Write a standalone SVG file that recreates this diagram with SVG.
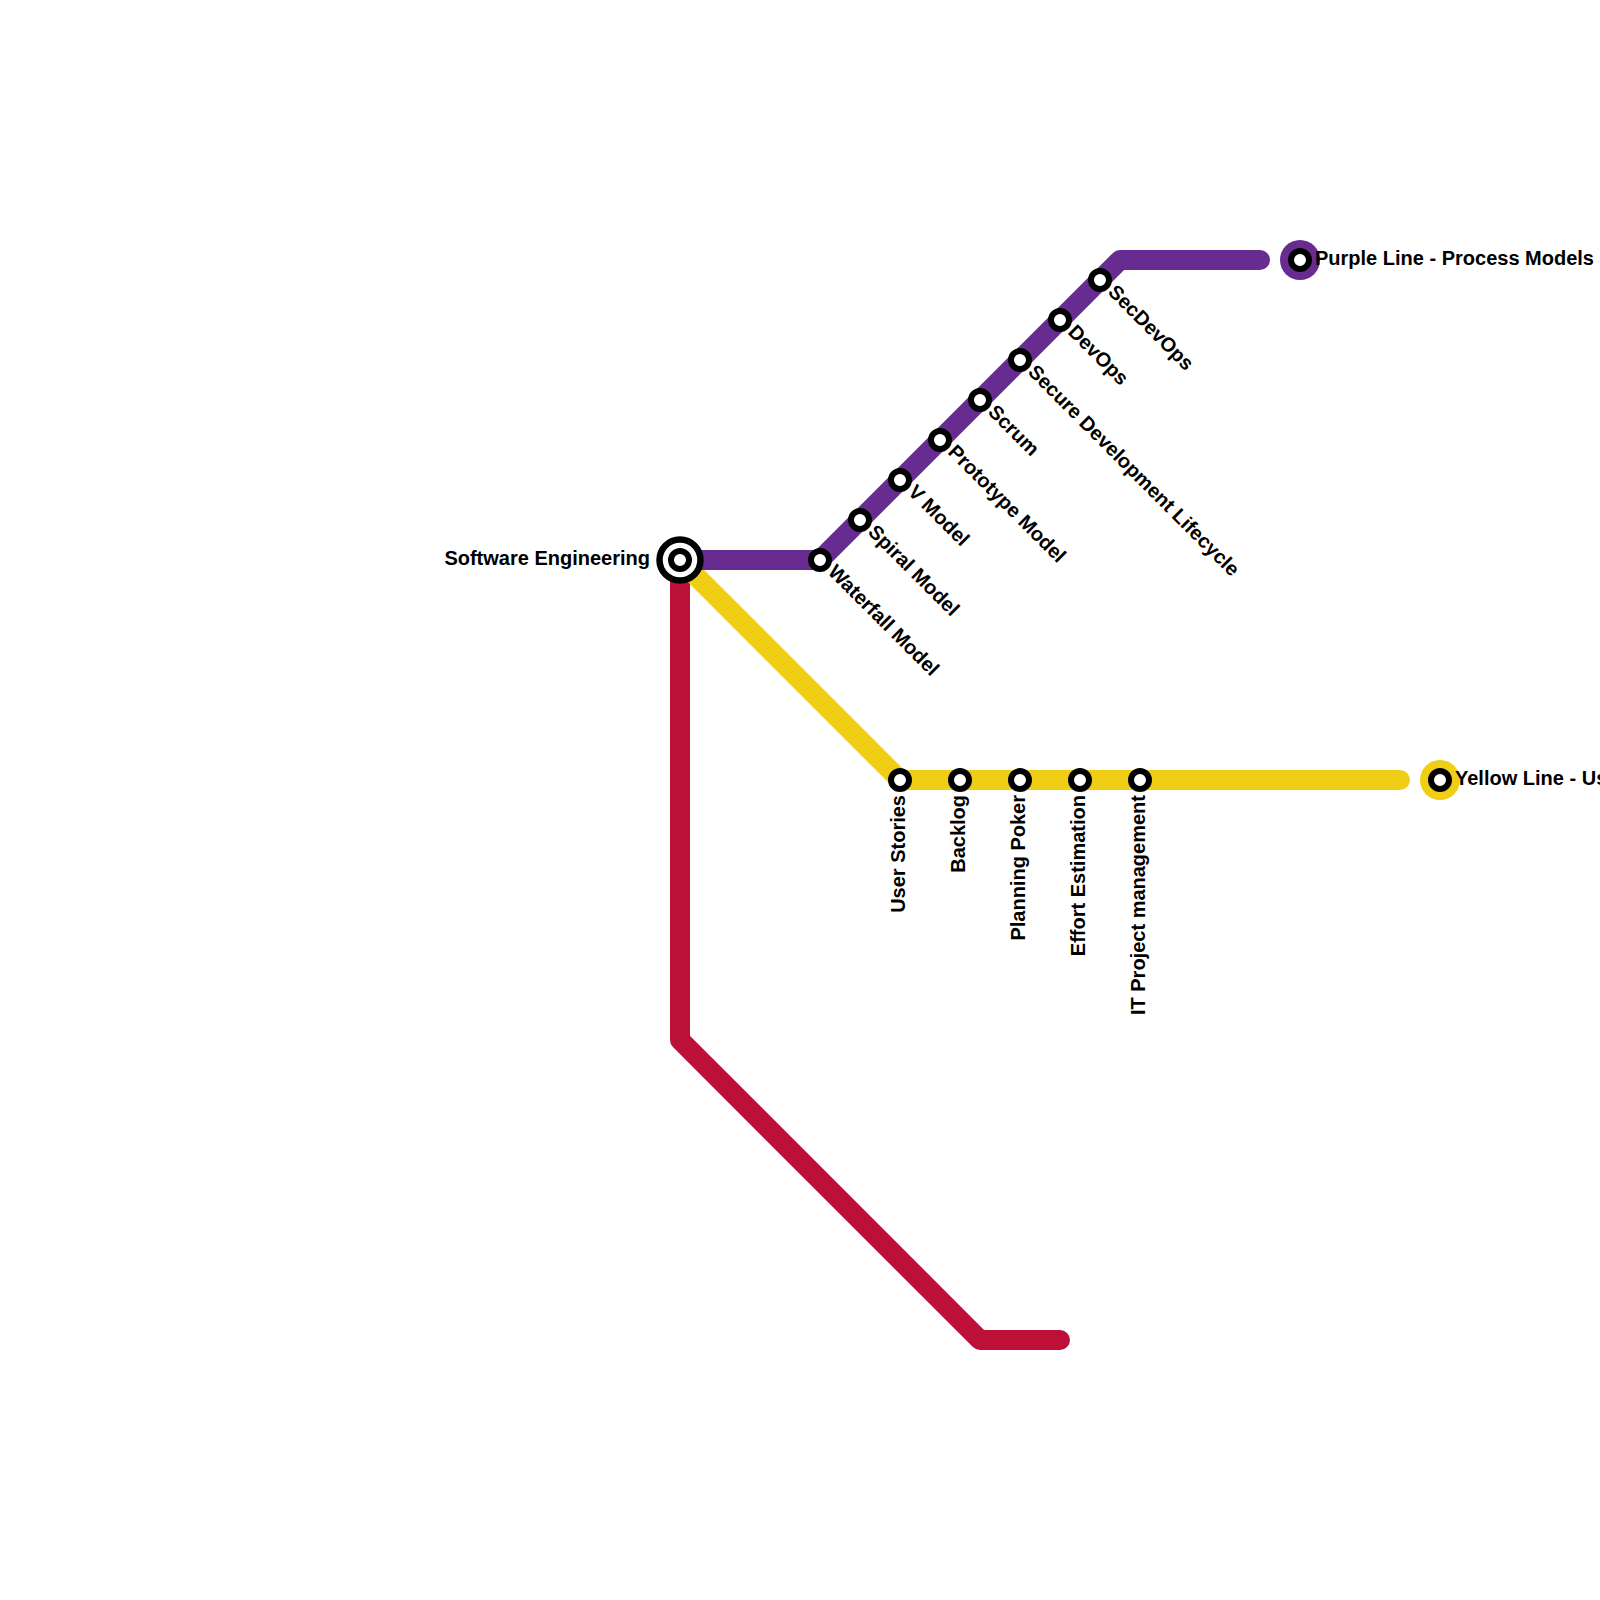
<svg xmlns="http://www.w3.org/2000/svg" width="1600" height="1600" viewBox="0 0 1600 1600">
<style>
.line{fill:none;stroke-width:20;stroke-linecap:round;stroke-linejoin:round}
.st{fill:#fff;stroke:#000;stroke-width:6}
.t{font-family:"Liberation Sans",Arial,sans-serif;font-weight:700;font-size:20px;fill:#000}
</style>
<rect width="1600" height="1600" fill="#fff"/>
<g id="connectors">
<path class="line" stroke="#bd1038" d="M680 560V1040L980 1340H1060"/>
<path class="line" stroke="#f0ce15" d="M680 560L900 780H1400"/>
<path class="line" stroke="#662c90" d="M680 560H820L1120 260H1260"/>
</g>
<g id="hub"><circle cx="680" cy="560" r="20.5" fill="#fff" stroke="#000" stroke-width="6.5"/><circle class="st" cx="680" cy="560" r="9"/><text class="t" x="650" y="565" text-anchor="end">Software Engineering</text></g>
<g id="waterfall"><circle class="st" cx="820" cy="560" r="9"/><text class="t" transform="translate(827 573) rotate(45)">Waterfall Model</text></g>
<g id="spiral"><circle class="st" cx="860" cy="520" r="9"/><text class="t" transform="translate(867 533) rotate(45)">Spiral Model</text></g>
<g id="vmodel"><circle class="st" cx="900" cy="480" r="9"/><text class="t" transform="translate(907 493) rotate(45)">V Model</text></g>
<g id="prototype"><circle class="st" cx="940" cy="440" r="9"/><text class="t" transform="translate(947 453) rotate(45)">Prototype Model</text></g>
<g id="scrum"><circle class="st" cx="980" cy="400" r="9"/><text class="t" transform="translate(987 413) rotate(45)">Scrum</text></g>
<g id="sdl"><circle class="st" cx="1020" cy="360" r="9"/><text class="t" transform="translate(1027 373) rotate(45)">Secure Development Lifecycle</text></g>
<g id="devops"><circle class="st" cx="1060" cy="320" r="9"/><text class="t" transform="translate(1067 333) rotate(45)">DevOps</text></g>
<g id="secdevops"><circle class="st" cx="1100" cy="280" r="9"/><text class="t" transform="translate(1107 293) rotate(45)">SecDevOps</text></g>
<g id="purple-end"><circle cx="1300" cy="260" r="20" fill="#662c90"/><circle class="st" cx="1300" cy="260" r="9"/><text class="t" x="1315" y="265">Purple Line - Process Models</text></g>
<g id="stories"><circle class="st" cx="900" cy="780" r="9"/><text class="t" transform="translate(905 795) rotate(-90)" text-anchor="end">User Stories</text></g>
<g id="backlog"><circle class="st" cx="960" cy="780" r="9"/><text class="t" transform="translate(965 795) rotate(-90)" text-anchor="end">Backlog</text></g>
<g id="poker"><circle class="st" cx="1020" cy="780" r="9"/><text class="t" transform="translate(1025 795) rotate(-90)" text-anchor="end">Planning Poker</text></g>
<g id="effort"><circle class="st" cx="1080" cy="780" r="9"/><text class="t" transform="translate(1085 795) rotate(-90)" text-anchor="end">Effort Estimation</text></g>
<g id="itpm"><circle class="st" cx="1140" cy="780" r="9"/><text class="t" transform="translate(1145 795) rotate(-90)" text-anchor="end">IT Project management</text></g>
<g id="yellow-end"><circle cx="1440" cy="780" r="20" fill="#f0ce15"/><circle class="st" cx="1440" cy="780" r="9"/><text class="t" x="1455" y="785">Yellow Line - Us</text></g>
</svg>
